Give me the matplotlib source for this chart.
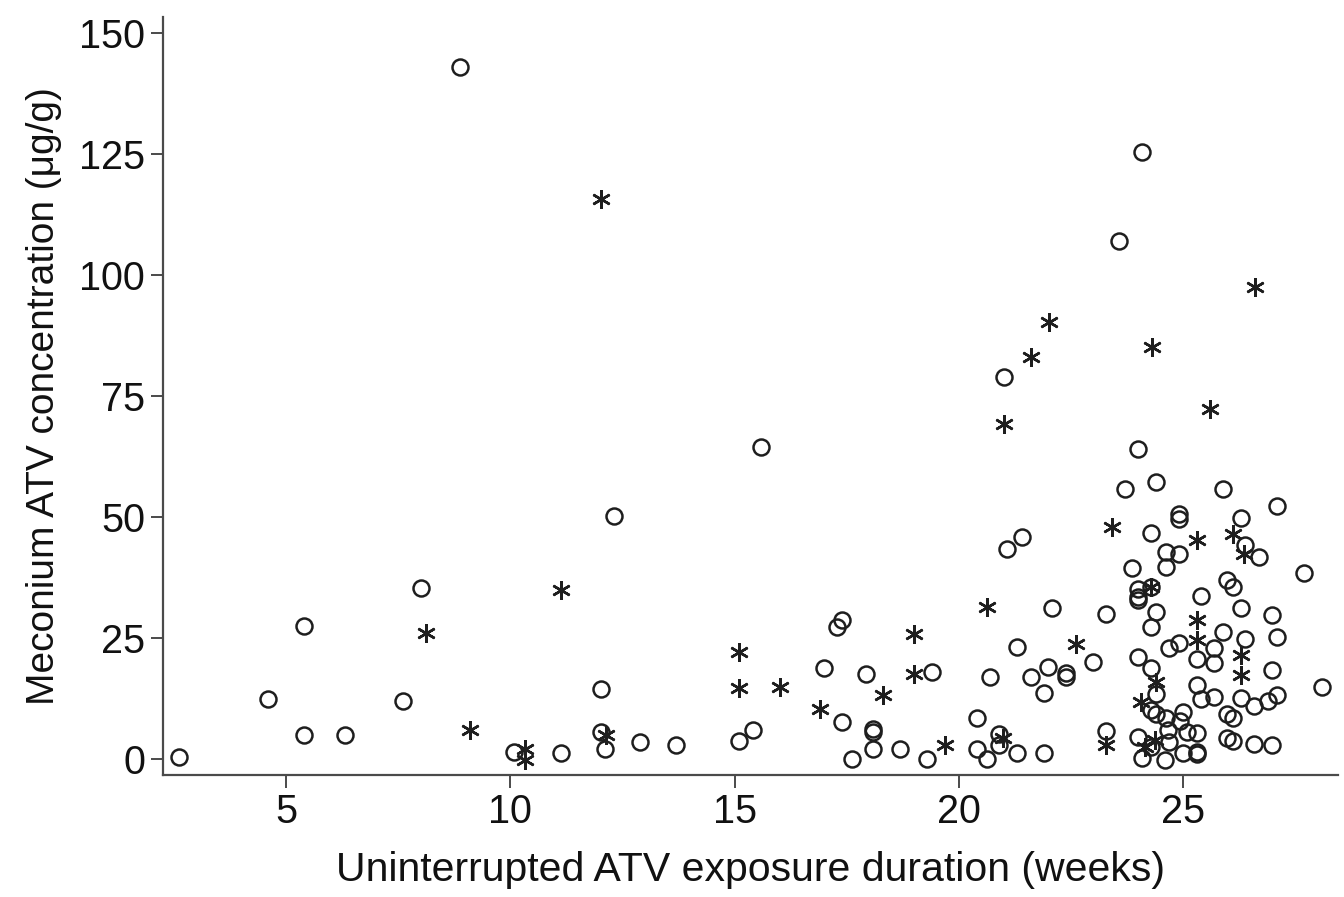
import matplotlib
matplotlib.use("Agg")
import matplotlib.pyplot as plt

# ---------------------------------------------------------------------
# DATA
# ---------------------------------------------------------------------

circle_weeks = [
    2.61, 4.60, 5.40, 5.40, 6.32, 7.62, 8.02, 8.89, 10.08, 11.12,
    12.02, 12.02, 12.11, 12.31, 12.90, 13.69, 15.11, 15.42, 15.59, 17.00,
    17.29, 17.40, 17.40, 17.61, 17.92, 18.08, 18.08, 18.08, 18.69, 19.28,
    19.40, 20.41, 20.40, 20.62, 20.69, 20.90, 20.90, 21.00, 21.08, 21.30,
    21.30, 21.40, 21.61, 21.90, 21.90, 21.99, 22.08, 22.39, 22.39, 22.98,
    23.29, 23.29, 23.57, 23.70, 23.87, 24.00, 24.00, 24.00, 24.00, 24.00,
    24.00, 24.09, 24.09, 24.29, 24.29, 24.29, 24.29, 24.28, 24.29, 24.39,
    24.39, 24.39, 24.39, 24.61, 24.61, 24.61, 24.60, 24.67, 24.69, 24.69,
    24.91, 24.91, 24.91, 24.91, 24.93, 25.00, 24.99, 25.08, 25.30, 25.30,
    25.30, 25.30, 25.30, 25.39, 25.39, 25.69, 25.69, 25.69, 25.89, 25.89,
    25.97, 25.97, 25.97, 26.10, 26.10, 26.10, 26.29, 26.29, 26.29, 26.38,
    26.38, 26.58, 26.58, 26.70, 26.88, 26.99, 26.99, 26.99, 27.10, 27.10,
    27.10, 27.70, 28.10,
]
circle_conc = [
    0.4, 12.4, 27.5, 5.0, 5.0, 12.0, 35.4, 143.0, 1.5, 1.3,
    14.4, 5.6, 2.1, 50.2, 3.6, 3.0, 3.8, 6.0, 64.5, 18.9,
    27.2, 28.7, 7.7, 0.0, 17.6, 6.3, 5.6, 2.1, 2.0, 0.1,
    18.0, 8.4, 2.1, 0.1, 16.9, 5.2, 2.9, 79.0, 43.5, 23.2,
    1.3, 45.9, 17.0, 13.7, 1.3, 19.1, 31.3, 17.8, 17.0, 20.1,
    29.9, 5.7, 107.0, 55.7, 39.4, 64.0, 35.2, 33.5, 32.9, 21.0,
    4.6, 0.2, 125.4, 46.8, 35.6, 27.3, 18.9, 10.1, 2.5, 57.3,
    30.4, 13.4, 9.3, 42.8, 39.7, 8.4, -0.1, 6.1, 23.0, 3.6,
    50.6, 49.7, 42.4, 23.9, 7.9, 9.8, 1.3, 5.5, 20.6, 15.3,
    5.3, 1.5, 1.0, 33.7, 12.5, 23.0, 19.8, 12.9, 55.9, 26.3,
    37.0, 9.3, 4.3, 35.5, 8.4, 3.7, 49.9, 31.3, 12.7, 44.2,
    24.9, 11.0, 3.2, 41.8, 12.0, 29.8, 18.3, 3.0, 52.3, 25.3,
    13.2, 38.5, 14.9,
]

star_weeks = [
    8.12, 9.10, 10.33, 10.33, 11.12, 12.02, 12.13, 15.11, 15.11, 16.01,
    16.90, 18.30, 18.99, 18.99, 19.70, 20.62, 20.99, 21.00, 21.60, 22.00,
    22.60, 23.29, 23.41, 24.07, 24.15, 24.30, 24.29, 24.37, 24.40, 25.30,
    25.30, 25.30, 25.60, 26.10, 26.29, 26.29, 26.36, 26.60,
]
star_conc = [
    26.1, 6.0, 2.0, -0.2, 34.9, 115.8, 5.0, 22.2, 14.7, 14.9,
    10.4, 13.2, 25.8, 17.6, 2.9, 31.5, 4.3, 69.2, 83.0, 90.3,
    23.8, 2.9, 48.0, 11.8, 2.5, 85.2, 35.6, 3.9, 15.9, 45.3,
    28.8, 24.7, 72.4, 46.5, 21.5, 17.4, 42.4, 97.6,
]

y_ticks = [0, 25, 50, 75, 100, 125, 150]
x_ticks = [5, 10, 15, 20, 25]

INK = '#1e1e1e'
SPINE = '#4a4a4a'

plt.rcParams['font.family'] = ['Liberation Sans', 'DejaVu Sans']

fig = plt.figure(figsize=(13.44, 8.97), dpi=100)
ax = fig.add_axes([0.1213, 0.1360, 0.8742, 0.8454])

ax.plot(circle_weeks, circle_conc, linestyle='none', marker='o', ms=11.5,
        mfc='none', mec=INK, mew=1.8)
ax.plot(star_weeks, star_conc, linestyle='none', marker=(6, 2, 0), ms=13.5,
        mfc='none', mec=INK, mew=1.8)

ax.set_xlim(2.26, 28.45)
ax.set_ylim(-3.3, 153.4)
ax.set_xticks(x_ticks)
ax.set_yticks(y_ticks)

for side in ('top', 'right'):
    ax.spines[side].set_visible(False)
for side in ('left', 'bottom'):
    ax.spines[side].set_color(SPINE)
    ax.spines[side].set_linewidth(1.6)

ax.tick_params(direction='out', length=9, width=1.4, color=SPINE,
               labelsize=28.5, labelcolor='#111111', pad=4)

ax.set_xlabel('Uninterrupted ATV exposure duration (weeks)', fontsize=29.5,
              color='#111111', labelpad=14)
ax.set_ylabel('Meconium ATV concentration (μg/g)', fontsize=28,
              color='#111111', labelpad=12)

fig.savefig('out.png', dpi=100)
